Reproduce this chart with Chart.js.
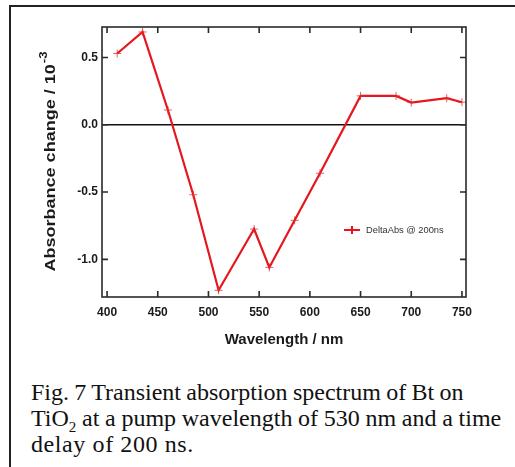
<!DOCTYPE html>
<html>
<head>
<meta charset="utf-8">
<script src="https://cdn.jsdelivr.net/npm/chart.js@4"></script>
<style>
  html, body { margin: 0; padding: 0; background: #fff; }
  body { width: 515px; height: 467px; position: relative; overflow: hidden; }
  .box { position: absolute; left: 9px; top: 5px; width: 520px; height: 480px;
         border-top: 2px solid #222; border-left: 2px solid #222; }
  .plot { position: absolute; left: 0; top: 0; width: 515px; height: 360px; }
  .caption { position: absolute; left: 31px; top: 379px; width: 475px;
             font-family: "Liberation Serif", "Times New Roman", serif;
             font-size: 24px; line-height: 26px; color: #111; }
  .caption div { white-space: nowrap; }
  #cap1 { word-spacing: -0.7px; }
  #cap2 { word-spacing: -0.3px; }
  #cap3 { letter-spacing: 0.6px; }
</style>
</head>
<body>
<div class="box"></div>
<div class="plot"><canvas id="spectrumChart"></canvas></div>
<div class="caption">
  <div id="cap1">Fig. 7 Transient absorption spectrum of Bt on</div>
  <div id="cap2">TiO<sub style="font-size:15px;line-height:0">2</sub> at a pump wavelength of 530 nm and a time</div>
  <div id="cap3">delay of 200 ns.</div>
</div>
<script>
// ---------- data ----------
const wavelengths = [410, 435, 460, 485, 510, 545, 560, 585, 610, 650, 685, 700, 735, 750];
const deltaAbs = [0.53, 0.69, 0.11, -0.52, -1.23, -0.775, -1.06, -0.71, -0.36, 0.215, 0.215, 0.165, 0.198, 0.168];
const seriesLabel = "DeltaAbs @ 200ns";
const xTickStep = 50;
const yTickStep = 0.5;

const lineRed = "#e4171e";
const frameColor = "#2a2a2a";
const textColor = "#1a1a1a";
const labelFont = "'Liberation Sans', Arial, sans-serif";

// ---------- frame, inward ticks, zero line, legend, y title ----------
const framePlugin = {
  id: "framePlugin",
  beforeDatasetsDraw(chart) {
    const { ctx, chartArea: a, scales } = chart;
    const y0 = scales.y.getPixelForValue(0);
    ctx.save();
    ctx.strokeStyle = "#111";
    ctx.lineWidth = 1.6;
    ctx.beginPath();
    ctx.moveTo(a.left, y0);
    ctx.lineTo(a.right, y0);
    ctx.stroke();
    ctx.restore();
  },
  afterDraw(chart) {
    const { ctx, chartArea: a, scales } = chart;
    const tick = 6;
    ctx.save();
    ctx.strokeStyle = frameColor;
    ctx.lineWidth = 1.6;
    ctx.strokeRect(a.left, a.top, a.right - a.left, a.bottom - a.top);

    ctx.beginPath();
    scales.x.ticks.forEach((t) => {
      const px = scales.x.getPixelForValue(t.value);
      ctx.moveTo(px, a.bottom);
      ctx.lineTo(px, a.bottom - tick);
      ctx.moveTo(px, a.top);
      ctx.lineTo(px, a.top + tick);
    });
    scales.y.ticks.forEach((t) => {
      const py = scales.y.getPixelForValue(t.value);
      ctx.moveTo(a.left, py);
      ctx.lineTo(a.left + tick, py);
      ctx.moveTo(a.right, py);
      ctx.lineTo(a.right - tick, py);
    });
    ctx.stroke();

    // legend inside the plot
    const ds = chart.data.datasets[0];
    const lx = 344, ly = 230;
    ctx.strokeStyle = ds.borderColor;
    ctx.lineWidth = 2;
    ctx.beginPath();
    ctx.moveTo(lx, ly);
    ctx.lineTo(lx + 16, ly);
    ctx.moveTo(lx + 8, ly - 4);
    ctx.lineTo(lx + 8, ly + 4);
    ctx.stroke();
    ctx.fillStyle = "#333";
    ctx.font = "9.3px " + labelFont;
    ctx.textBaseline = "middle";
    ctx.fillText(ds.label, lx + 22, ly + 0.5);

    // y axis title with superscript
    const main = "Absorbance change / 10";
    const sup = "-3";
    ctx.translate(50, (a.top + a.bottom) / 2);
    ctx.rotate(-Math.PI / 2);
    ctx.scale(1.2, 1);
    ctx.font = "bold 15px " + labelFont;
    const wMain = ctx.measureText(main).width;
    ctx.font = "bold 11px " + labelFont;
    const wSup = ctx.measureText(sup).width;
    const start = -(wMain + wSup) / 2;
    ctx.fillStyle = textColor;
    ctx.textBaseline = "alphabetic";
    ctx.font = "bold 15px " + labelFont;
    ctx.fillText(main, start, 5);
    ctx.font = "bold 11px " + labelFont;
    ctx.fillText(sup, start + wMain + 1, -3);
    ctx.restore();
  },
};

const ctx = document.getElementById("spectrumChart").getContext("2d");
const spectrumChart = new Chart(ctx, {
  type: "line",
  data: {
    datasets: [
      {
        label: seriesLabel,
        data: wavelengths.map((w, i) => ({ x: w, y: deltaAbs[i] })),
        borderColor: lineRed,
        borderWidth: 2.2,
        tension: 0,
        pointStyle: "cross",
        pointRadius: 4,
        pointBorderWidth: 1,
        pointBorderColor: "rgba(228,40,40,0.75)",
        pointBackgroundColor: lineRed,
      },
    ],
  },
  options: {
    responsive: true,
    maintainAspectRatio: false,
    animation: false,
    layout: { padding: { left: 0, right: 49, top: 27, bottom: 0 } },
    plugins: {
      legend: { display: false },
      tooltip: { enabled: false },
    },
    scales: {
      x: {
        type: "linear",
        min: 395,
        max: 754,
        grid: { display: false, drawTicks: false },
        border: { display: false },
        ticks: {
          stepSize: xTickStep,
          includeBounds: false,
          padding: 8,
          color: textColor,
          font: { family: labelFont, size: 12, weight: "bold" },
        },
        title: {
          display: true,
          text: "Wavelength / nm",
          color: textColor,
          font: { family: labelFont, size: 15, weight: "bold" },
          padding: { top: 0, bottom: 11 },
        },
        afterFit: (s) => { s.height = 63; },
      },
      y: {
        type: "linear",
        min: -1.28,
        max: 0.727,
        grid: { display: false, drawTicks: false },
        border: { display: false },
        ticks: {
          stepSize: yTickStep,
          includeBounds: false,
          padding: 4,
          color: textColor,
          font: { family: labelFont, size: 12, weight: "bold" },
          callback: (v) => v.toFixed(1),
        },
        afterFit: (s) => { s.width = 102; },
      },
    },
  },
  plugins: [framePlugin],
});
</script>
</body>
</html>
